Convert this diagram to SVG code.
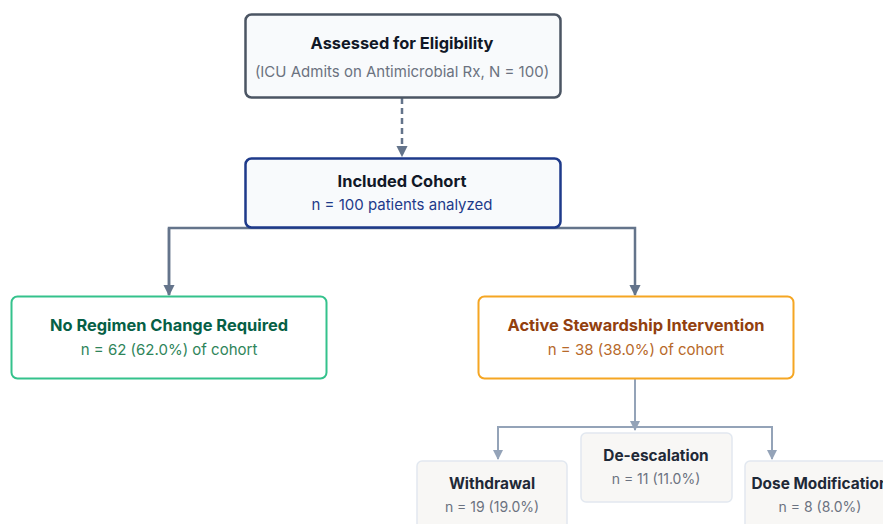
<svg xmlns="http://www.w3.org/2000/svg" width="883" height="524" viewBox="0 0 883 524">
<style>
text{font-family:Inter,"Liberation Sans",sans-serif;text-anchor:middle}
.t{font-weight:700;font-size:16.4px}
.s{font-size:15px}
.t2{font-weight:700;font-size:15.4px;fill:#1f2937}
.s2{font-size:14px;fill:#6b7280}
.c1{fill:none;stroke:#64748b;stroke-width:2.5}
.c2{fill:none;stroke:#94a3b8;stroke-width:2}
.sub{fill:#f8f7f5;stroke:#e2e8f0;stroke-width:1.5}
</style>
<defs>
<marker id="a1" viewBox="0 0 10 10" refX="9" refY="5" markerWidth="4.5" markerHeight="4.5" orient="auto" markerUnits="strokeWidth"><path d="M0,0L10,5L0,10z" fill="#64748b"/></marker>
<marker id="a2" viewBox="0 0 10 10" refX="9" refY="5" markerWidth="5" markerHeight="5" orient="auto" markerUnits="strokeWidth"><path d="M0,0L10,5L0,10z" fill="#94a3b8"/></marker>
</defs>
<rect width="883" height="524" fill="#ffffff"/>
<g id="connectors">
<path class="c1" d="M402,98V156" stroke-dasharray="6,4" marker-end="url(#a1)"/>
<path class="c1" d="M169,295V228H635V295" marker-end="url(#a1)"/>
<path class="c1" d="M169,228V295" marker-end="url(#a1)"/>
<path class="c2" d="M635,379V430" marker-end="url(#a2)"/>
<path class="c2" d="M498,459V427H772V459" marker-end="url(#a2)"/>
<path class="c2" d="M498,427V459" marker-end="url(#a2)"/>
</g>
<g id="assessed">
<rect x="245.5" y="14.5" width="315" height="83" rx="6" fill="#f8fafc" stroke="#4b5563" stroke-width="2.5"/>
<text class="t" x="402" y="49" fill="#111827">Assessed for Eligibility</text>
<text class="s" x="402" y="77" fill="#6b7280">(ICU Admits on Antimicrobial Rx, N = 100)</text>
</g>
<g id="included">
<rect x="245.5" y="158.5" width="315" height="69" rx="6" fill="#f8fafc" stroke="#1e3a8a" stroke-width="2.5"/>
<text class="t" x="402" y="187" fill="#111827">Included Cohort</text>
<text class="s" x="402" y="210" fill="#1e3a8a">n = 100 patients analyzed</text>
</g>
<g id="nochange">
<rect x="11.5" y="296.5" width="315" height="82" rx="6" fill="#ffffff" stroke="#34c28c" stroke-width="2"/>
<text class="t" x="169" y="331" fill="#065f46">No Regimen Change Required</text>
<text class="s" x="169" y="355" fill="#2f855a">n = 62 (62.0%) of cohort</text>
</g>
<g id="active">
<rect x="478.5" y="296.5" width="315" height="82" rx="6" fill="#ffffff" stroke="#f5a623" stroke-width="2"/>
<text class="t" x="636" y="331" fill="#92400e">Active Stewardship Intervention</text>
<text class="s" x="636" y="355" fill="#b7692a">n = 38 (38.0%) of cohort</text>
</g>
<g id="withdrawal">
<rect x="417" y="461" width="150" height="80" rx="5" class="sub"/>
<text class="t2" x="492" y="489">Withdrawal</text>
<text class="s2" x="492" y="512">n = 19 (19.0%)</text>
</g>
<g id="deescalation">
<rect x="581" y="433" width="151" height="69" rx="5" class="sub"/>
<text class="t2" x="656" y="461">De-escalation</text>
<text class="s2" x="656" y="484">n = 11 (11.0%)</text>
</g>
<g id="dosemod">
<rect x="745" y="461" width="150" height="80" rx="5" class="sub"/>
<text class="t2" x="820" y="489">Dose Modification</text>
<text class="s2" x="820" y="512">n = 8 (8.0%)</text>
</g>
</svg>
